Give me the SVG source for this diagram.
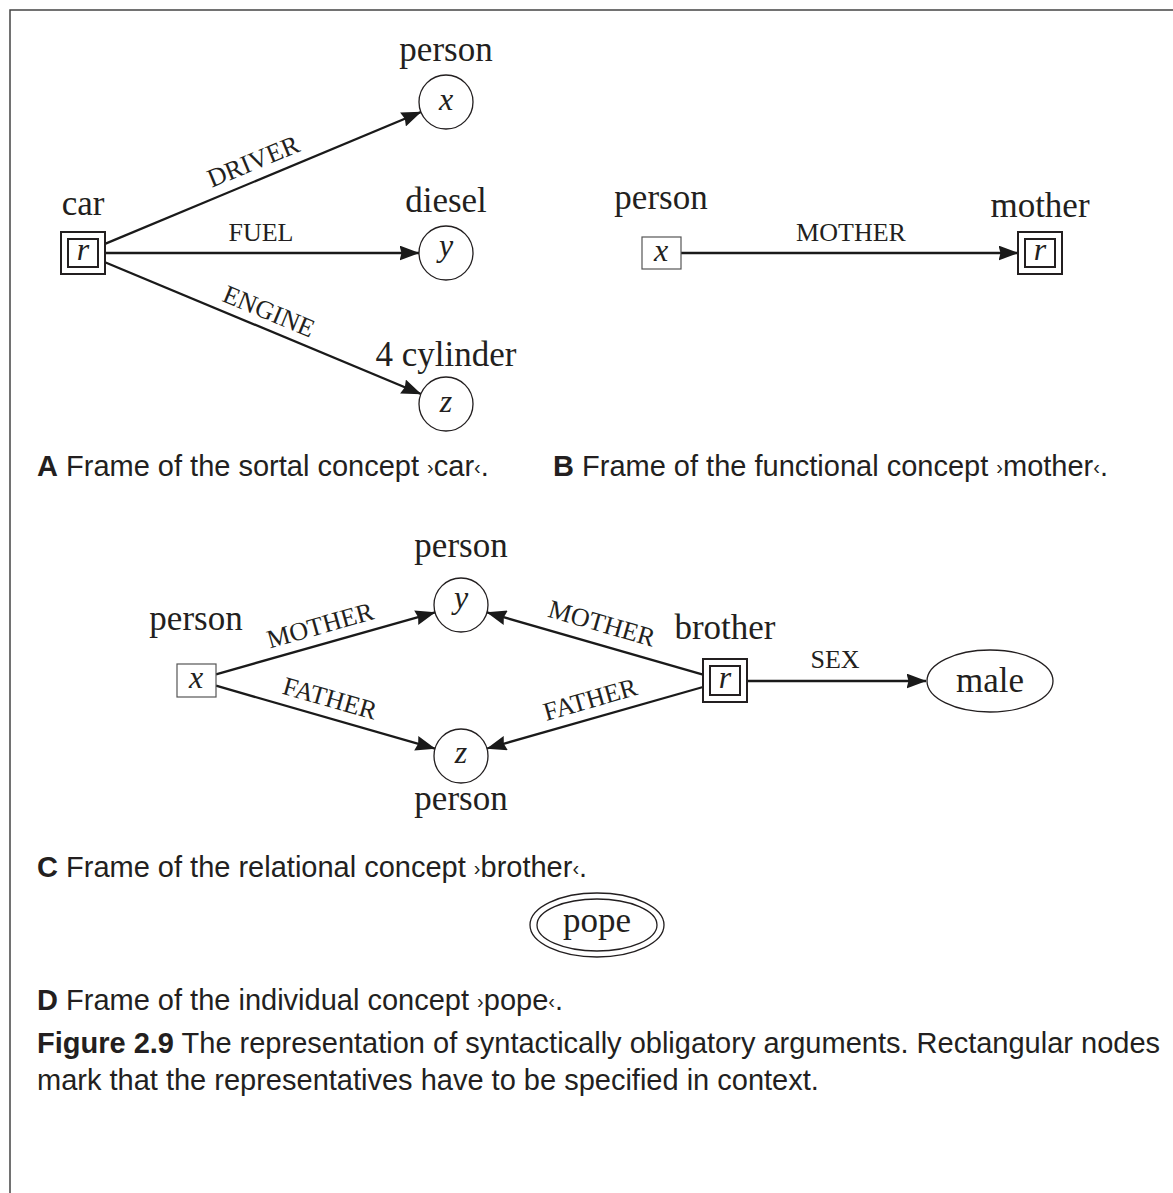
<svg xmlns="http://www.w3.org/2000/svg" width="1173" height="1193" viewBox="0 0 1173 1193">
  <style>
    .lbl { font-family: "Liberation Serif", "Times New Roman", serif; font-size: 35px; fill: #231f20; text-anchor: middle; }
    .var { font-family: "Liberation Serif", "Times New Roman", serif; font-style: italic; font-size: 32px; fill: #231f20; text-anchor: middle; }
    .rel { font-family: "Liberation Serif", "Times New Roman", serif; font-size: 26px; fill: #231f20; text-anchor: middle; }
    .cap { font-family: "Liberation Sans", Arial, sans-serif; font-size: 29px; fill: #231f20; }
    .cap .b { font-weight: bold; }
    .cap .q { font-size: 20px; }
    .circ { fill: #fff; stroke: #231f20; stroke-width: 1.3; }
    .plain { fill: #fff; stroke: #555; stroke-width: 1.2; }
    .dbl { fill: #fff; stroke: #231f20; stroke-width: 2; }
    .edge { fill: none; stroke: #1a1a1a; stroke-width: 2.3; marker-end: url(#arrow); }
    .frame { fill: none; stroke: #444; stroke-width: 1.5; }
  </style>
  <defs>
    <marker id="arrow" markerUnits="userSpaceOnUse" markerWidth="20" markerHeight="15" viewBox="0 0 20 15" refX="19.5" refY="7.5" orient="auto">
      <path d="M0,0 L20,7.5 L0,15 L2,7.5 z" fill="#1a1a1a"/>
    </marker>
  </defs>

  <rect width="1173" height="1193" fill="#fff"/>
  <!-- page frame: top and left rules -->
  <path class="frame" d="M10,1193 V10 H1173"/>

  <!-- connectors -->
  <g id="connectors">
    <!-- A: car -->
    <line class="edge" x1="105" y1="243.9" x2="421" y2="112"/>
    <line class="edge" x1="105" y1="253" x2="419" y2="253"/>
    <line class="edge" x1="105" y1="262.2" x2="421" y2="394"/>
    <!-- B: mother -->
    <line class="edge" x1="681" y1="253" x2="1018" y2="253"/>
    <!-- C: brother -->
    <line class="edge" x1="216" y1="674.3" x2="435" y2="612.4"/>
    <line class="edge" x1="216" y1="685.7" x2="435" y2="748.6"/>
    <line class="edge" x1="703" y1="674.7" x2="487" y2="612.4"/>
    <line class="edge" x1="703" y1="687" x2="487" y2="748.5"/>
    <line class="edge" x1="747" y1="681" x2="926" y2="681"/>
    <!-- relation labels -->
    <text class="rel" transform="translate(253,161) rotate(-22.5)" y="9">DRIVER</text>
    <text class="rel" x="261" y="241">FUEL</text>
    <text class="rel" transform="translate(269,311) rotate(22.6)" y="9">ENGINE</text>
    <text class="rel" x="851" y="241">MOTHER</text>
    <text class="rel" transform="translate(320,625) rotate(-15.8)" y="9">MOTHER</text>
    <text class="rel" transform="translate(330,698) rotate(15.8)" y="9">FATHER</text>
    <text class="rel" transform="translate(602,623) rotate(16)" y="9">MOTHER</text>
    <text class="rel" transform="translate(590,699) rotate(-16)" y="9">FATHER</text>
    <text class="rel" x="835" y="668">SEX</text>
  </g>

  <!-- A: frame of the sortal concept car -->
  <g id="car-r">
    <rect class="dbl" x="61" y="232" width="44" height="42"/>
    <rect class="dbl" x="68" y="239" width="30" height="28"/>
    <text class="var" x="83" y="260">r</text>
    <text class="lbl" x="83" y="215">car</text>
  </g>
  <g id="car-x">
    <circle class="circ" cx="446" cy="102" r="27"/>
    <text class="var" x="446" y="110">x</text>
    <text class="lbl" x="446" y="61">person</text>
  </g>
  <g id="car-y">
    <circle class="circ" cx="446" cy="253" r="27"/>
    <text class="var" x="446" y="256">y</text>
    <text class="lbl" x="446" y="212">diesel</text>
  </g>
  <g id="car-z">
    <circle class="circ" cx="446" cy="404" r="27"/>
    <text class="var" x="446" y="412">z</text>
    <text class="lbl" x="446" y="366">4 cylinder</text>
  </g>

  <!-- B: frame of the functional concept mother -->
  <g id="mother-x">
    <rect class="plain" x="642" y="237" width="39" height="32"/>
    <text class="var" x="661" y="261">x</text>
    <text class="lbl" x="661" y="209">person</text>
  </g>
  <g id="mother-r">
    <rect class="dbl" x="1018" y="232" width="44" height="42"/>
    <rect class="dbl" x="1025" y="239" width="30" height="28"/>
    <text class="var" x="1040" y="260">r</text>
    <text class="lbl" x="1040" y="217">mother</text>
  </g>

  <!-- C: frame of the relational concept brother -->
  <g id="brother-x">
    <rect class="plain" x="177" y="664" width="39" height="33"/>
    <text class="var" x="196" y="688">x</text>
    <text class="lbl" x="196" y="630">person</text>
  </g>
  <g id="brother-y">
    <circle class="circ" cx="461" cy="605" r="27"/>
    <text class="var" x="461" y="608">y</text>
    <text class="lbl" x="461" y="557">person</text>
  </g>
  <g id="brother-z">
    <circle class="circ" cx="461" cy="756" r="27"/>
    <text class="var" x="461" y="763">z</text>
    <text class="lbl" x="461" y="810">person</text>
  </g>
  <g id="brother-r">
    <rect class="dbl" x="703" y="659" width="44" height="43"/>
    <rect class="dbl" x="710" y="666" width="30" height="29"/>
    <text class="var" x="725" y="688">r</text>
    <text class="lbl" x="725" y="639">brother</text>
  </g>
  <g id="brother-male">
    <ellipse class="circ" cx="990" cy="681" rx="63" ry="31"/>
    <text class="lbl" x="990" y="692">male</text>
  </g>

  <!-- D: frame of the individual concept pope -->
  <g id="pope">
    <ellipse class="circ" cx="597" cy="925" rx="67" ry="32"/>
    <ellipse class="circ" cx="597" cy="925" rx="60" ry="26"/>
    <text class="lbl" x="597" y="932">pope</text>
  </g>

  <!-- captions; the small angle quotes sit raised at mid x-height -->
  <g id="captions">
    <text class="cap" x="37" y="476"><tspan class="b">A</tspan> Frame of the sortal concept <tspan class="q" dy="-2">›</tspan><tspan dy="2">car</tspan><tspan class="q" dy="-2">‹</tspan><tspan dy="2">.</tspan></text>
    <text class="cap" x="553" y="476"><tspan class="b">B</tspan> Frame of the functional concept <tspan class="q" dy="-2">›</tspan><tspan dy="2">mother</tspan><tspan class="q" dy="-2">‹</tspan><tspan dy="2">.</tspan></text>
    <text class="cap" x="37" y="877"><tspan class="b">C</tspan> Frame of the relational concept <tspan class="q" dy="-2">›</tspan><tspan dy="2">brother</tspan><tspan class="q" dy="-2">‹</tspan><tspan dy="2">.</tspan></text>
    <text class="cap" x="37" y="1010"><tspan class="b">D</tspan> Frame of the individual concept <tspan class="q" dy="-2">›</tspan><tspan dy="2">pope</tspan><tspan class="q" dy="-2">‹</tspan><tspan dy="2">.</tspan></text>
    <text class="cap" x="37" y="1053"><tspan class="b">Figure 2.9</tspan> The representation of syntactically obligatory arguments. Rectangular nodes</text>
    <text class="cap" x="37" y="1090">mark that the representatives have to be specified in context.</text>
  </g>
</svg>
